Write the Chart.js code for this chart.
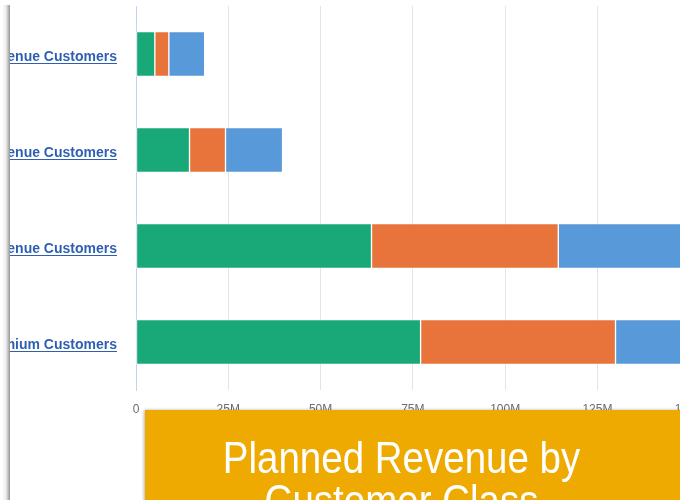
<!DOCTYPE html>
<html>
<head>
<meta charset="utf-8">
<script src="https://cdn.jsdelivr.net/npm/chart.js@4/dist/chart.umd.min.js"></script>
<style>
  html, body { margin: 0; padding: 0; width: 680px; height: 500px; overflow: hidden; background: #ffffff; font-family: "Liberation Sans", Arial, sans-serif; }
  #edge { position: absolute; left: 2px; top: 5px; width: 8px; height: 495px;
          background: linear-gradient(to right, rgba(0,0,0,0), rgba(0,0,0,0.08) 50%, rgba(0,0,0,0.42)); }
  #panel { position: absolute; left: 10px; top: 0; width: 700px; height: 500px; overflow: hidden; background: #fff; }
  #wrap { position: absolute; left: -50px; top: 0; width: 900px; height: 500px; }
  #titlebox { position: absolute; left: 145px; top: 410px; width: 600px; height: 120px; background: #EEAA00;
              box-shadow: -1px 0 3px rgba(0,0,0,0.3); overflow: hidden; }
  #title { position: absolute; left: 0; top: 26px; width: 513px; text-align: center; color: #ffffff;
           font-family: "Liberation Sans", Arial, sans-serif; font-size: 38.5px; line-height: 37px;
           transform: scaleY(1.16); transform-origin: 0 0; }
</style>
</head>
<body>
<div id="edge"></div>
<div id="panel">
  <div id="wrap"><canvas id="c" width="900" height="500"></canvas></div>
</div>
<div id="titlebox"><div id="title">Planned Revenue by<br>Customer Class</div></div>
<script>
const categories = ["Low Revenue Customers", "Medium Revenue Customers", "High Revenue Customers", "Premium Customers"];
const seriesNames = ["Segment 1", "Segment 2", "Segment 3"];
const segment1 = [5.1e6, 14.5e6, 63.8e6, 77.1e6];
const segment2 = [3.8e6, 9.75e6, 50.6e6, 52.8e6];
const segment3 = [9.7e6, 15.45e6, 40e6, 40e6];
const tickStep = 25e6;
const axisMax = 175e6;
const colors = ["#19A979", "#E8743B", "#5899DA"];

const underlinePlugin = {
  id: 'underline',
  afterDraw(chart) {
    const s = chart.scales.y;
    const ctx = chart.ctx;
    const f = s.options.ticks.font;
    ctx.save();
    ctx.font = f.weight + ' ' + f.size + 'px ' + f.family;
    ctx.strokeStyle = s.options.ticks.color;
    ctx.lineWidth = 1;
    s.ticks.forEach((t, i) => {
      const y = s.getPixelForTick(i) + s.options.ticks.labelOffset;
      const right = s.right - s.options.grid.tickLength - s.options.ticks.padding;
      const w = ctx.measureText(t.label).width;
      const ly = Math.round(y + 6) + 0.5;
      ctx.beginPath();
      ctx.moveTo(right - w, ly);
      ctx.lineTo(right, ly);
      ctx.stroke();
    });
    ctx.restore();
  }
};

new Chart(document.getElementById('c'), {
  type: 'bar',
  data: {
    labels: categories,
    datasets: [segment1, segment2, segment3].map((d, i) => ({
      label: seriesNames[i],
      data: d,
      backgroundColor: colors[i],
      borderColor: 'rgba(255,255,255,0.55)',
      borderWidth: 1,
      borderSkipped: false,
      barThickness: 45
    }))
  },
  options: {
    indexAxis: 'y',
    responsive: false,
    animation: false,
    devicePixelRatio: 1,
    layout: { padding: { top: 6, right: 78, left: 0, bottom: 0 } },
    plugins: { legend: { display: false }, tooltip: { enabled: false } },
    scales: {
      x: {
        stacked: true,
        min: 0,
        max: axisMax,
        afterFit(scale) { scale.height = 110; },
        border: { display: false },
        grid: {
          drawTicks: false,
          color: (c) => c.index === 0 ? '#c3d4ef' : '#e4e4e4'
        },
        ticks: {
          stepSize: tickStep,
          padding: 12,
          color: '#6a6d70',
          font: { family: 'Liberation Sans', size: 12 },
          callback: (v) => v === 0 ? '0' : (v / 1e6) + 'M'
        }
      },
      y: {
        stacked: true,
        afterFit(scale) { scale.width = 176; },
        border: { display: true, color: '#c3d4ef' },
        grid: { display: true, drawOnChartArea: false, drawTicks: true, tickLength: 19, color: 'rgba(0,0,0,0)' },
        ticks: {
          padding: 0,
          labelOffset: 3,
          color: '#2f5fb3',
          font: { family: 'Liberation Sans', size: 14, weight: 'bold', lineHeight: 0.8 }
        }
      }
    }
  },
  plugins: [underlinePlugin]
});
</script>
</body>
</html>
